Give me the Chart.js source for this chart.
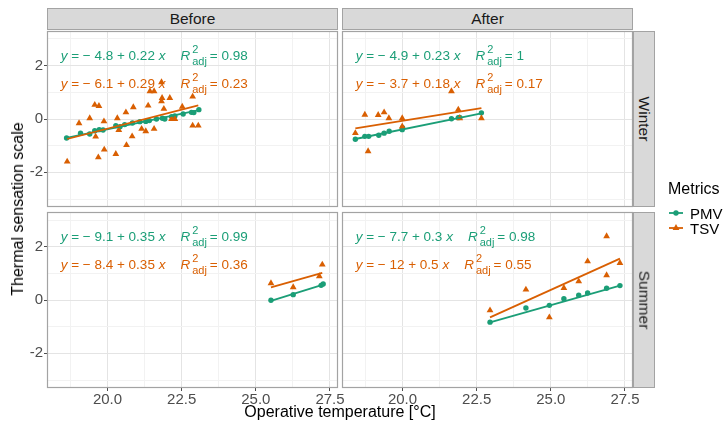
<!DOCTYPE html>
<html>
<head>
<meta charset="utf-8">
<script src="https://cdn.jsdelivr.net/npm/chart.js@4.4.1/dist/chart.umd.min.js"></script>
<style>
  body { margin: 0; background: #fff; font-family: 'Liberation Sans', Arial, sans-serif; }
  #wrap { position: relative; width: 725px; height: 425px; overflow: hidden; }
  canvas { position: absolute; left: 0; top: 0; }
  .strip { position: absolute; background: #d9d9d9; border: 1px solid #a3a3a3; box-sizing: border-box;
    color: #1a1a1a; font-size: 15.5px; display: flex; align-items: center; justify-content: center; }
  .strip.v span { transform: rotate(90deg); white-space: nowrap; }
  .eq { position: absolute; height: 30px; display: flex; align-items: center; font-size: 13.5px; white-space: nowrap; }
  .rr { margin-left: 15px; display: inline-flex; align-items: center; }
  .st { display: inline-flex; flex-direction: column; align-items: flex-start; font-size: 11px; line-height: 1; gap: 1.5px; margin-left: 2px; margin-right: 3px; }
  .lab { position: absolute; font-size: 16px; color: #000; white-space: nowrap; }
  .leg { position: absolute; left: 667px; font-size: 15px; color: #000; display: flex; align-items: center; height: 16px; }
</style>
</head>
<body>
<div id="wrap"></div>
<script>
// axis setup
const xMajor = [20, 22.5, 25, 27.5];
const xMinor = [18.75, 21.25, 23.75, 26.25];
const yMajor = [-2, 0, 2];
const yMinor = [-3, -1, 1, 3];
const xRange = [17.96, 27.77];
const yRange = [-3.3, 3.3];

const phases = ['Before', 'After'];
const seasons = ['Winter', 'Summer'];
const metrics = ['PMV', 'TSV'];
const colors = ['#1b9e77', '#d95f02'];

// [temperature, sensation]
const winterBeforePMV = [[18.62,-0.71],[19.09,-0.53],[19.40,-0.56],[19.57,-0.44],[19.72,-0.40],[19.85,-0.41],
  [20.28,-0.25],[20.42,-0.29],[20.58,-0.21],[20.84,-0.15],[21.09,-0.10],[21.29,-0.09],[21.41,-0.06],[21.65,0.0],
  [21.85,0.03],[21.93,0.0],[22.16,0.09],[22.27,0.11],[22.55,0.19],[22.83,0.25],[22.91,0.24],[23.08,0.35]];
const winterBeforeTSV = [[18.64,-1.6],[19.04,-0.16],[19.40,0.03],[19.57,0.53],[19.71,0.49],[19.88,-0.09],
  [19.69,-1.44],[19.89,-1.15],[19.60,-0.66],[20.28,-1.31],[20.33,0.03],[20.38,-0.41],[20.62,0.25],[20.64,-0.98],
  [20.83,-0.65],[20.87,0.44],[21.15,-0.37],[21.29,-0.46],[21.37,0.5],[21.43,1.04],[21.57,1.04],[21.57,-0.37],
  [21.82,1.38],[21.82,0.66],[21.84,0.79],[21.90,0.38],[22.10,0.79],[22.16,0.0],[22.27,0.0],[22.52,0.46],
  [22.87,0.84],[22.87,-0.25],[23.06,-0.25]];
const winterAfterPMV = [[18.41,-0.76],[18.73,-0.65],[18.86,-0.65],[19.20,-0.61],[19.38,-0.53],[19.55,-0.46],
  [19.99,-0.40],[20.0,-0.33],[21.65,0.01],[21.88,0.05],[21.93,0.06],[22.66,0.23]];
const winterAfterTSV = [[18.41,-0.53],[18.73,0.16],[18.84,-1.21],[19.18,0.15],[19.38,0.25],[19.54,0.03],
  [19.99,0.03],[19.99,-0.28],[21.65,1.04],[21.88,0.35],[21.93,0.03],[22.66,0.03]];
const summerBeforePMV = [[25.51,-0.01],[26.26,0.2],[27.20,0.55],[27.27,0.6]];
const summerBeforeTSV = [[25.51,0.63],[26.26,0.48],[27.14,0.89],[27.24,1.33]];
const summerAfterPMV = [[22.95,-0.83],[24.16,-0.30],[24.95,-0.2],[25.44,0.05],[25.94,0.18],[26.24,0.26],
  [26.88,0.44],[27.33,0.54]];
const summerAfterTSV = [[22.95,-0.39],[24.16,0.39],[24.95,-0.65],[25.44,0.45],[25.94,0.70],[26.24,1.45],
  [26.88,2.39],[26.88,0.93],[27.33,1.39]];

// fitted line ends
const winterBeforeFit = [[[18.62,-0.71],[23.08,0.33]], [[18.64,-0.75],[23.06,0.51]]];
const winterAfterFit = [[[18.41,-0.75],[22.66,0.21]], [[18.41,-0.35],[22.66,0.41]]];
const summerBeforeFit = [[[25.51,-0.03],[27.27,0.58]], [[25.51,0.47],[27.24,1.02]]];
const summerAfterFit = [[[22.95,-0.84],[27.33,0.54]], [[22.95,-0.65],[27.33,1.55]]];

// equation labels: [intercept, slope, adjusted R2]
const winterBeforeEq = [[-4.8, '0.22', '0.98'], [-6.1, '0.29', '0.23']];
const winterAfterEq = [[-4.9, '0.23', '1'], [-3.7, '0.18', '0.17']];
const summerBeforeEq = [[-9.1, '0.35', '0.99'], [-8.4, '0.35', '0.36']];
const summerAfterEq = [[-7.7, '0.3', '0.98'], [-12, '0.5', '0.55']];

const panelData = [
  [[winterBeforePMV, winterBeforeTSV, winterBeforeFit, winterBeforeEq],
   [winterAfterPMV, winterAfterTSV, winterAfterFit, winterAfterEq]],
  [[summerBeforePMV, summerBeforeTSV, summerBeforeFit, summerBeforeEq],
   [summerAfterPMV, summerAfterTSV, summerAfterFit, summerAfterEq]]
];

const W = 725, H = 425;
const colLeft = [47, 342], colRight = [338, 633];
const rowTop = [31, 212], rowBottom = [207, 388];
const wrap = document.getElementById('wrap');

const toXY = (arr) => arr.map((p) => ({ x: p[0], y: p[1] }));

const panelBorder = {
  id: 'panelBorder',
  afterDraw(chart) {
    const a = chart.chartArea;
    const ctx = chart.ctx;
    ctx.save();
    ctx.strokeStyle = '#a3a3a3';
    ctx.lineWidth = 1.2;
    ctx.strokeRect(a.left + 0.5, a.top + 0.5, a.right - a.left - 1, a.bottom - a.top - 1);
    ctx.restore();
  }
};

function addDiv(cls, style, html) {
  const d = document.createElement('div');
  d.className = cls;
  Object.assign(d.style, style);
  d.innerHTML = html;
  wrap.appendChild(d);
  return d;
}

function eqHtml(e) {
  return '<i>y</i>&nbsp;=&nbsp;−&nbsp;' + Math.abs(e[0]) + '&nbsp;+&nbsp;' + e[1] + '&nbsp;<i>x</i>' +
    '<span class="rr"><i>R</i><span class="st"><span>2</span><span>adj</span></span>=&nbsp;' + e[2] + '</span>';
}

for (let r = 0; r < 2; r++) {
  for (let c = 0; c < 2; c++) {
    const [pmv, tsv, fit, eq] = panelData[r][c];
    const showY = c === 0, showX = r === 1;
    const yw = showY ? 22 : 0, xh = showX ? 22 : 0;

    const cv = document.createElement('canvas');
    cv.width = W; cv.height = H;
    wrap.appendChild(cv);

    new Chart(cv, {
      type: 'scatter',
      data: {
        datasets: [
          { data: toXY(fit[1]), showLine: true, borderColor: colors[1], borderWidth: 1.8, pointRadius: 0, order: 0 },
          { data: toXY(fit[0]), showLine: true, borderColor: colors[0], borderWidth: 1.8, pointRadius: 0, order: 1 },
          { data: toXY(tsv), pointStyle: 'triangle', pointRadius: 3.9, backgroundColor: colors[1], borderWidth: 0, order: 2 },
          { data: toXY(pmv), pointStyle: 'circle', pointRadius: 2.7, backgroundColor: colors[0], borderWidth: 0, order: 3 }
        ]
      },
      options: {
        responsive: false,
        animation: false,
        events: [],
        layout: {
          autoPadding: false,
          padding: { left: colLeft[c] - yw, right: W - colRight[c], top: rowTop[r], bottom: H - rowBottom[r] - xh }
        },
        plugins: { legend: { display: false }, tooltip: { enabled: false } },
        scales: {
          x: {
            type: 'linear', min: xRange[0], max: xRange[1],
            afterBuildTicks: (s) => { s.ticks = xMinor.concat(xMajor).sort((a, b) => a - b).map((v) => ({ value: v })); },
            afterFit: (s) => { s.height = xh; },
            border: { display: false },
            grid: {
              color: (ctx) => xMajor.includes(ctx.tick && ctx.tick.value) ? '#e4e4e4' : '#f2f2f2',
              lineWidth: 1,
              drawTicks: showX,
              tickLength: 3,
              tickColor: (ctx) => xMajor.includes(ctx.tick && ctx.tick.value) ? '#4d4d4d' : 'rgba(0,0,0,0)'
            },
            ticks: {
              display: showX, autoSkip: false, maxRotation: 0, padding: 0,
              color: '#4d4d4d', font: { family: 'Liberation Sans', size: 15 },
              callback: (v) => xMajor.includes(v) ? v.toFixed(1) : ''
            }
          },
          y: {
            type: 'linear', min: yRange[0], max: yRange[1],
            afterBuildTicks: (s) => { s.ticks = yMinor.concat(yMajor).sort((a, b) => a - b).map((v) => ({ value: v })); },
            afterFit: (s) => { s.width = yw; },
            border: { display: false },
            grid: {
              color: (ctx) => yMajor.includes(ctx.tick && ctx.tick.value) ? '#e4e4e4' : '#f2f2f2',
              lineWidth: 1,
              drawTicks: showY,
              tickLength: 3,
              tickColor: (ctx) => yMajor.includes(ctx.tick && ctx.tick.value) ? '#4d4d4d' : 'rgba(0,0,0,0)'
            },
            ticks: {
              display: showY, autoSkip: false, padding: 1,
              color: '#4d4d4d', font: { family: 'Liberation Sans', size: 15 },
              callback: (v) => yMajor.includes(v) ? String(v) : ''
            }
          }
        }
      },
      plugins: [panelBorder]
    });

    // equation labels
    const offs = [24.3, 52.3];
    for (let m = 0; m < 2; m++) {
      addDiv('eq', { left: (colLeft[c] + 13.7) + 'px', top: (rowTop[r] + offs[m] - 15) + 'px', color: colors[m] }, eqHtml(eq[m]));
    }
  }
}

// facet strips
for (let c = 0; c < 2; c++) {
  addDiv('strip', { left: colLeft[c] + 'px', top: '8px', width: (colRight[c] - colLeft[c]) + 'px', height: '22px' }, phases[c]);
}
for (let r = 0; r < 2; r++) {
  addDiv('strip v', { left: '633px', top: rowTop[r] + 'px', width: '22px', height: (rowBottom[r] - rowTop[r]) + 'px' },
    '<span>' + seasons[r] + '</span>');
}

// axis titles
addDiv('lab', { left: '340px', top: '412px', transform: 'translate(-50%,-50%)' }, 'Operative temperature [°C]');
addDiv('lab', { left: '18px', top: '209px', transform: 'translate(-50%,-50%) rotate(-90deg)' }, 'Thermal sensation scale');

// legend
addDiv('lab', { left: '668px', top: '180px' }, 'Metrics');
const keyShapes = [
  '<circle cx="9" cy="8" r="2.7" fill="' + colors[0] + '"/>',
  '<polygon points="9,4.1 12.4,10 5.6,10" fill="' + colors[1] + '"/>'
];
metrics.forEach((name, i) => {
  const svg = '<svg width="18" height="16" style="margin-right:5px"><line x1="2" y1="8" x2="16" y2="8" stroke="' +
    colors[i] + '" stroke-width="1.8"/>' + keyShapes[i] + '</svg>';
  addDiv('leg', { top: (213 + i * 15 - 8) + 'px' }, svg + name);
});
</script>
</body>
</html>
